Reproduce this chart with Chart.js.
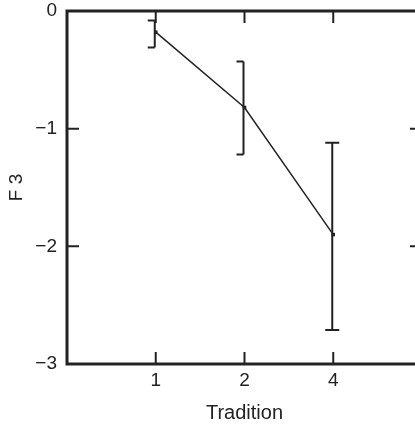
<!DOCTYPE html>
<html>
<head>
<meta charset="utf-8">
<script src="https://cdn.jsdelivr.net/npm/chart.js@4.4.0/dist/chart.umd.min.js"></script>
<style>
  html, body { margin: 0; padding: 0; background: #fff; overflow: hidden; }
</style>
</head>
<body>
<canvas id="c" width="430" height="425"></canvas>
<script>
// data (blank categories pad the axis at both ends)
const traditions = ['', '1', '2', '4', ''];
const f3Means = [null, -0.18, -0.82, -1.90, null];
const f3Upper = [null, -0.08, -0.43, -1.12, null];
const f3Lower = [null, -0.31, -1.22, -2.71, null];
const yTicks = [0, -1, -2, -3];

const ink = '#222';

// error bars, drawn through the scales
const errorBars = {
  id: 'errorBars',
  afterDatasetsDraw(chart, args, opts) {
    const { ctx, scales: { x, y } } = chart;
    ctx.save();
    ctx.strokeStyle = ink;
    ctx.lineWidth = 2;
    f3Means.forEach((m, i) => {
      if (m === null) return;
      const px = x.getPixelForValue(i) - 1;
      const top = y.getPixelForValue(f3Upper[i]);
      const bot = y.getPixelForValue(f3Lower[i]);
      const side = opts.caps[i];
      const l = side === 'right' ? 0 : opts.capWidth;
      const r = side === 'left' ? 0 : opts.capWidth;
      ctx.beginPath();
      ctx.moveTo(px, top);
      ctx.lineTo(px, bot);
      ctx.moveTo(px - l, top);
      ctx.lineTo(px + r, top);
      ctx.moveTo(px - l, bot);
      ctx.lineTo(px + r, bot);
      ctx.stroke();
    });
    ctx.restore();
  }
};

// box round the plot with ticks pointing inwards on all four sides
const frame = {
  id: 'frame',
  afterDraw(chart) {
    const { ctx, chartArea: a, scales: { x, y } } = chart;
    ctx.save();
    ctx.strokeStyle = ink;
    ctx.lineWidth = 2;
    const len = 12;
    ctx.beginPath();
    x.ticks.forEach((t, i) => {
      if (!traditions[i]) return;
      const px = x.getPixelForTick(i);
      ctx.moveTo(px, a.top);
      ctx.lineTo(px, a.top + len);
      ctx.moveTo(px, a.bottom);
      ctx.lineTo(px, a.bottom - len);
    });
    y.ticks.forEach((t, i) => {
      const py = y.getPixelForTick(i);
      ctx.moveTo(a.left, py);
      ctx.lineTo(a.left + len, py);
      ctx.moveTo(a.right, py);
      ctx.lineTo(a.right - len, py);
    });
    ctx.stroke();
    ctx.lineWidth = 3;
    ctx.strokeRect(a.left, a.top, a.right - a.left, a.bottom - a.top);
    ctx.restore();
  }
};

new Chart(document.getElementById('c'), {
  type: 'line',
  data: {
    labels: traditions,
    datasets: [{
      data: f3Means,
      borderColor: ink,
      borderWidth: 1.5,
      backgroundColor: ink,
      pointStyle: 'rect',
      pointRadius: 2.5,
      pointBorderWidth: 0,
      tension: 0
    }]
  },
  options: {
    responsive: false,
    animation: false,
    layout: { padding: { left: 0, right: 8, top: 11, bottom: 0 } },
    plugins: {
      legend: { display: false },
      tooltip: { enabled: false },
      errorBars: { capWidth: 7, caps: [null, 'left', 'left', 'both', null] }
    },
    scales: {
      x: {
        type: 'category',
        offset: false,
        grid: { display: false, tickLength: 0 },
        border: { display: false },
        ticks: {
          color: ink,
          font: { family: 'Liberation Sans', size: 19 },
          padding: 5,
          autoSkip: false,
          maxRotation: 0
        },
        title: {
          display: true,
          text: 'Tradition',
          color: ink,
          font: { family: 'Liberation Sans', size: 20 },
          padding: { top: 2, bottom: 0 }
        },
        afterFit: s => {
          s.height = 61;
          s.paddingLeft = 0;
          s.paddingRight = 0;
        }
      },
      y: {
        min: -3,
        max: 0,
        grid: { display: false, tickLength: 0 },
        border: { display: false },
        afterBuildTicks: s => { s.ticks = yTicks.map(v => ({ value: v })); },
        ticks: {
          color: ink,
          font: { family: 'Liberation Sans', size: 19 },
          padding: 10,
          callback: v => String(v).replace('-', '\u2212')
        },
        title: {
          display: true,
          text: 'F 3',
          color: ink,
          font: { family: 'Liberation Sans', size: 19 },
          padding: { top: 5, bottom: 4 }
        },
        afterFit: s => {
          s.width = 67;
          s.paddingTop = 0;
          s.paddingBottom = 0;
        }
      }
    }
  },
  plugins: [errorBars, frame]
});
</script>
</body>
</html>
